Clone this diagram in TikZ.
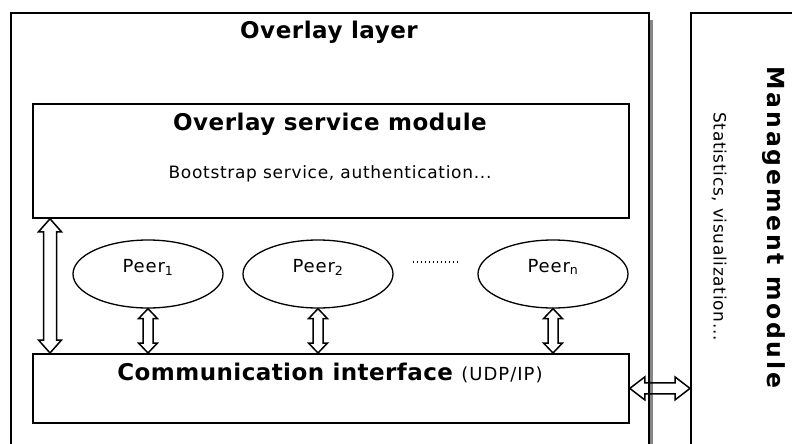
\documentclass[tikz,border=0pt]{standalone}
\usepackage{fontspec}
\setmainfont{DejaVu Sans}
\usetikzlibrary{calc,shapes.geometric}

% Hollow double-headed block arrows.
% #1 first end, #2 second end, #3 half head width, #4 half shaft width, #5 head length
\newcommand\vdblarrow[5]{%
  \draw[blockarrow] (#1) -- ++(-#3,#5) -- ++(#3-#4,0) -- ($(#2)+(-#4,-#5)$)
    -- ++(#4-#3,0) -- (#2) -- ++(#3,-#5) -- ++(#4-#3,0) -- ($(#1)+(#4,#5)$)
    -- ++(#3-#4,0) -- cycle;}
\newcommand\hdblarrow[5]{%
  \draw[blockarrow] (#1) -- ++(#5,-#3) -- ++(0,#3-#4) -- ($(#2)+(-#5,-#4)$)
    -- ++(0,#4-#3) -- (#2) -- ++(-#5,#3) -- ++(0,#4-#3) -- ($(#1)+(#5,#4)$)
    -- ++(0,#3-#4) -- cycle;}

% font size and letter spacing in one go
\newcommand\txtfont[2]{\fontsize{#1}{#1}\selectfont\addfontfeature{LetterSpace=#2}}

\tikzset{
  box/.style={draw=black, line width=1.8pt, fill=white, inner sep=0pt, anchor=north west},
  peer/.style={draw=black, line width=1.3pt, ellipse, inner sep=0pt,
    minimum width=150pt, minimum height=68pt, text height=10pt, text depth=14pt,
    font=\txtfont{18}{5}},
  blockarrow/.style={draw=black, line width=1.5pt, line join=miter},
  titletext/.style={anchor=base, inner sep=0pt},
}

\begin{document}
\begin{tikzpicture}[x=1pt, y=-1pt]
  \useasboundingbox (0,0) rectangle (792,444);
  \clip (0,0) rectangle (792,444);

  % overlay layer with its drop shadow
  \fill[gray!95] (14,20) rectangle (653,460);
  \node[box, minimum width=638pt, minimum height=450pt] (ol) at (10,12) {};
  \node[titletext] (oltitle) at (329,38) {\txtfont{23}{2.3}\bfseries Overlay layer};

  % management module
  \node[box, minimum width=120pt, minimum height=450pt] (mm) at (690,12) {};
  \node[titletext, rotate=-90] (mmtitle) at (767,227.5)
    {\txtfont{23.5}{12}\bfseries Management module};
  \node[titletext, rotate=-90] (mmtext) at (713.5,226.5)
    {\txtfont{17}{4}Statistics, visualization...};

  % overlay service module
  \node[box, minimum width=596pt, minimum height=114pt] (osm) at (32,103) {};
  \node[titletext] (osmtitle) at (330,130) {\txtfont{23}{2.2}\bfseries Overlay service module};
  \node[titletext] (osmtext) at (330,178.3) {\txtfont{17}{4.1}Bootstrap service, authentication...};

  % communication interface
  \node[box, minimum width=596pt, minimum height=69pt] (comm) at (32,353) {};
  \node[titletext] (commtitle) at (330,380)
    {{\txtfont{23}{1.9}\bfseries Communication interface\ }{\txtfont{18}{5.5}(UDP/IP)}};

  % peers
  \node[peer] (p1) at (148,274) {Peer\textsubscript{1}};
  \node[peer] (p2) at (318,274) {Peer\textsubscript{2}};
  \node[peer] (pn) at (553,274) {Peer\textsubscript{n}};
  \coordinate (dotsA) at (413,262);
  \coordinate (dotsB) at (458,262);
  \draw[line width=1.4pt, dash pattern=on 1.4pt off 2.6pt] (dotsA) -- (dotsB);

  % connectors
  \coordinate (la) at ($(osm.south west)+(18,0)$);
  \coordinate (lb) at ($(comm.north west)+(18,0)$);
  \vdblarrow{la}{lb}{11.5}{6.5}{13}
  \vdblarrow{p1.south}{p1.south |- comm.north}{9.5}{5}{10}
  \vdblarrow{p2.south}{p2.south |- comm.north}{9.5}{5}{10}
  \vdblarrow{pn.south}{pn.south |- comm.north}{9.5}{5}{10}
  \coordinate (ha) at (comm.east);
  \coordinate (hb) at (comm.east -| mm.west);
  \hdblarrow{ha}{hb}{11.5}{5.5}{15}
\end{tikzpicture}
\end{document}
